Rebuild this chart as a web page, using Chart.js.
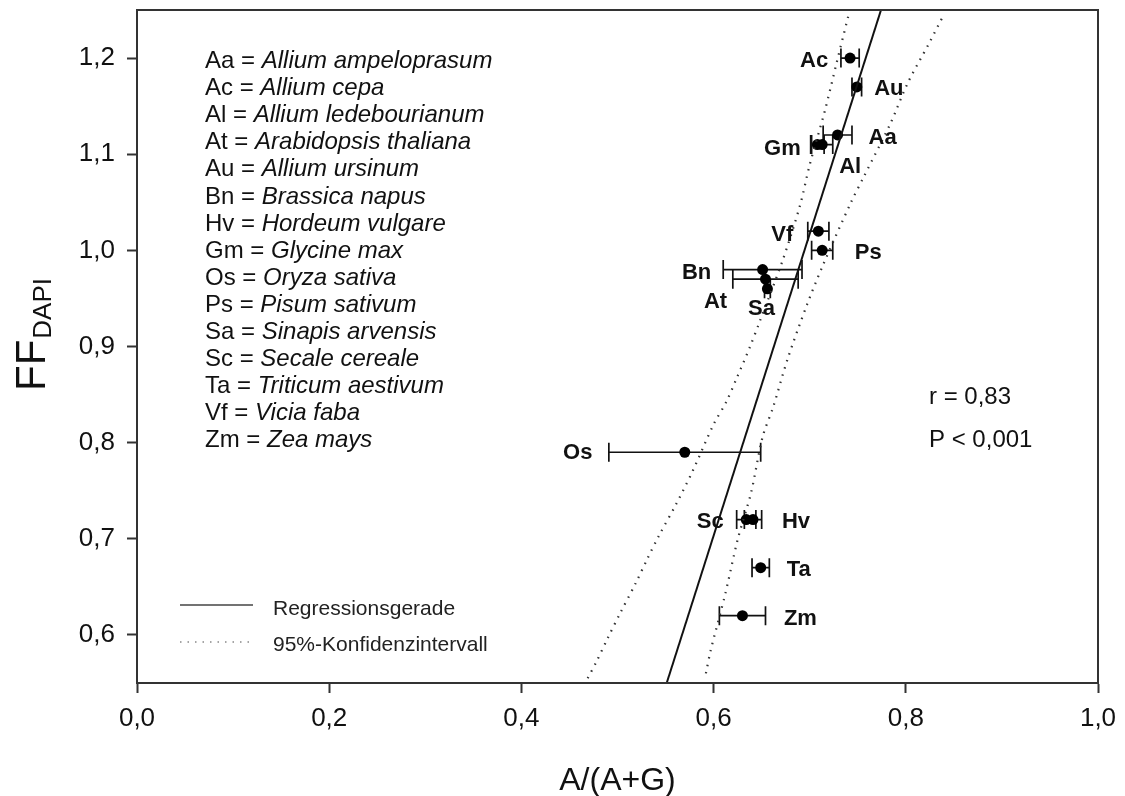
<!DOCTYPE html>
<html>
<head>
<meta charset="utf-8">
<script src="https://cdn.jsdelivr.net/npm/chart.js@4/dist/chart.umd.min.js"></script>
<style>
  html, body { margin: 0; padding: 0; background: #fff; }
  #wrap { width: 1125px; height: 796px; }
</style>
</head>
<body>
<div id="wrap"><canvas id="c" width="1125" height="796"></canvas></div>
<script>
// Species abbreviations and full names
const speciesCodes = ['Aa', 'Ac', 'Al', 'At', 'Au', 'Bn', 'Hv', 'Gm', 'Os', 'Ps', 'Sa', 'Sc', 'Ta', 'Vf', 'Zm'];
const speciesNames = ['Allium ampeloprasum', 'Allium cepa', 'Allium ledebourianum', 'Arabidopsis thaliana',
  'Allium ursinum', 'Brassica napus', 'Hordeum vulgare', 'Glycine max', 'Oryza sativa', 'Pisum sativum',
  'Sinapis arvensis', 'Secale cereale', 'Triticum aestivum', 'Vicia faba', 'Zea mays'];

// A/(A+G) with its error, and FF(DAPI), per species
const aag    = [0.729, 0.742, 0.713, 0.654, 0.749, 0.651, 0.641, 0.708, 0.570, 0.713, 0.656, 0.634, 0.649, 0.709, 0.630];
const aagErr = [0.015, 0.0095, 0.011, 0.034, 0.005, 0.041, 0.009, 0.007, 0.079, 0.011, 0.003, 0.010, 0.009, 0.011, 0.024];
const ffDapi = [1.12, 1.20, 1.11, 0.97, 1.17, 0.98, 0.72, 1.11, 0.79, 1.00, 0.96, 0.72, 0.67, 1.02, 0.62];

// Regression line end points
const regX = [0.5512, 0.7742];
const regY = [0.55, 1.25];

// 95% confidence band, left and right boundaries
const ciLeftX = [0.469, 0.478, 0.490, 0.503, 0.519, 0.531, 0.543, 0.561, 0.578, 0.600, 0.613, 0.624, 0.638, 0.648, 0.672, 0.690, 0.700, 0.716, 0.728, 0.740];
const ciLeftY = [0.555, 0.572, 0.597, 0.623, 0.654, 0.679, 0.703, 0.736, 0.770, 0.819, 0.842, 0.867, 0.900, 0.926, 0.990, 1.047, 1.089, 1.146, 1.195, 1.243];
const ciRightX = [0.592, 0.597, 0.612, 0.625, 0.639, 0.651, 0.662, 0.677, 0.697, 0.714, 0.743, 0.756, 0.784, 0.802, 0.824, 0.840];
const ciRightY = [0.560, 0.584, 0.642, 0.699, 0.748, 0.806, 0.837, 0.887, 0.943, 0.985, 1.050, 1.076, 1.132, 1.174, 1.215, 1.246];

// Axis ticks
const xTicks = [0.0, 0.2, 0.4, 0.6, 0.8, 1.0];
const yTicks = [0.6, 0.7, 0.8, 0.9, 1.0, 1.1, 1.2];

// Statistics text
const statLines = ['r = 0,83', 'P < 0,001'];
const legendLabels = ['Regressionsgerade', '95%-Konfidenzintervall'];

const FONT = '"Liberation Sans", Arial, Helvetica, sans-serif';

// Pixel offsets of the bold species labels from their points
const labelOffsets = {
  Aa: [45, 3], Ac: [-36, 3], Al: [28, 22], At: [-50, 23], Au: [32, 2], Bn: [-66, 3], Hv: [43, 2],
  Gm: [-35, 4], Os: [-107, 1], Ps: [46, 3], Sa: [-6, 20], Sc: [-36, 2], Ta: [38, 2], Vf: [-36, 4], Zm: [58, 3]
};

const zip = (xs, ys) => xs.map((v, i) => ({ x: v, y: ys[i] }));
const fmt = v => v.toFixed(1).replace('.', ',');

const decorations = {
  id: 'decorations',
  beforeDatasetsDraw(chart) {
    const { ctx, scales: { x, y } } = chart;
    ctx.save();
    ctx.strokeStyle = '#111';
    ctx.lineWidth = 1.7;
    speciesCodes.forEach((code, i) => {
      const py = y.getPixelForValue(ffDapi[i]);
      const x0 = x.getPixelForValue(aag[i] - aagErr[i]);
      const x1 = x.getPixelForValue(aag[i] + aagErr[i]);
      ctx.beginPath();
      ctx.moveTo(x0, py); ctx.lineTo(x1, py);
      ctx.moveTo(x0, py - 9.5); ctx.lineTo(x0, py + 9.5);
      ctx.moveTo(x1, py - 9.5); ctx.lineTo(x1, py + 9.5);
      ctx.stroke();
    });
    ctx.restore();
  },
  afterDraw(chart) {
    const { ctx, chartArea: a, scales: { x, y } } = chart;
    ctx.save();
    // frame
    ctx.strokeStyle = '#333';
    ctx.lineWidth = 2;
    ctx.strokeRect(a.left, a.top, a.right - a.left, a.bottom - a.top);

    // species labels
    ctx.fillStyle = '#111';
    ctx.font = 'bold 22px ' + FONT;
    ctx.textAlign = 'center';
    ctx.textBaseline = 'middle';
    speciesCodes.forEach((code, i) => {
      const px = x.getPixelForValue(aag[i]);
      const py = y.getPixelForValue(ffDapi[i]);
      const [dx, dy] = labelOffsets[code];
      ctx.fillText(code, px + dx, py + dy);
    });

    // species key
    ctx.textAlign = 'left';
    ctx.textBaseline = 'alphabetic';
    speciesCodes.forEach((code, i) => {
      const by = 68 + i * 27.1;
      ctx.font = '24px ' + FONT;
      const head = code + ' = ';
      ctx.fillText(head, 205, by);
      const w = ctx.measureText(head).width;
      ctx.font = 'italic 24px ' + FONT;
      ctx.fillText(speciesNames[i], 205 + w, by);
    });

    // statistics
    ctx.font = '24px ' + FONT;
    ctx.fillText(statLines[0], 929, 404);
    ctx.fillText(statLines[1], 929, 447);

    // legend
    ctx.strokeStyle = '#444';
    ctx.lineWidth = 1.5;
    ctx.beginPath(); ctx.moveTo(180, 605); ctx.lineTo(253, 605); ctx.stroke();
    ctx.strokeStyle = '#888';
    ctx.setLineDash([1.5, 6]);
    ctx.beginPath(); ctx.moveTo(180, 642); ctx.lineTo(253, 642); ctx.stroke();
    ctx.setLineDash([]);
    ctx.fillStyle = '#222';
    ctx.font = '21px ' + FONT;
    ctx.fillText(legendLabels[0], 273, 615);
    ctx.fillText(legendLabels[1], 273, 651);

    // axis titles
    ctx.fillStyle = '#111';
    ctx.font = '32px ' + FONT;
    ctx.textAlign = 'center';
    ctx.fillText('A/(A+G)', (a.left + a.right) / 2, 790);

    ctx.save();
    ctx.translate(45, 391);
    ctx.rotate(-Math.PI / 2);
    ctx.textAlign = 'left';
    ctx.font = '42px ' + FONT;
    ctx.fillText('FF', 0, 0);
    const fw = ctx.measureText('FF').width;
    ctx.font = '26px ' + FONT;
    ctx.fillText('DAPI', fw + 1, 6);
    ctx.restore();

    ctx.restore();
  }
};

const axisStyle = {
  grid: { drawOnChartArea: false, drawTicks: true, tickLength: 10, tickWidth: 2, color: '#333' },
  border: { display: true, width: 2, color: '#333' }
};

new Chart(document.getElementById('c'), {
  type: 'scatter',
  data: {
    datasets: [
      { data: zip(regX, regY), showLine: true, borderColor: '#111', borderWidth: 2, pointRadius: 0 },
      { data: zip(ciLeftX, ciLeftY), showLine: true, borderColor: '#333', borderWidth: 2.2,
        borderDash: [1.5, 6], pointRadius: 0, tension: 0.3 },
      { data: zip(ciRightX, ciRightY), showLine: true, borderColor: '#333', borderWidth: 2.2,
        borderDash: [1.5, 6], pointRadius: 0, tension: 0.3 },
      { data: zip(aag, ffDapi), pointRadius: 5.5, pointBackgroundColor: '#000', pointBorderColor: '#000',
        pointBorderWidth: 0, showLine: false }
    ]
  },
  options: {
    responsive: false,
    animation: false,
    events: [],
    layout: { padding: { top: 10, right: 27, left: 0, bottom: 0 } },
    plugins: { legend: { display: false }, tooltip: { enabled: false } },
    scales: {
      x: {
        type: 'linear', min: 0, max: 1,
        afterBuildTicks: s => { s.ticks = xTicks.map(v => ({ value: v })); },
        afterFit: s => { s.height = 113; s.paddingLeft = 0; s.paddingRight = 0; },
        ticks: { callback: v => fmt(v), color: '#111', padding: 10, font: { family: FONT, size: 26 }, maxRotation: 0 },
        ...axisStyle
      },
      y: {
        type: 'linear', min: 0.55, max: 1.25,
        afterBuildTicks: s => { s.ticks = yTicks.map(v => ({ value: v })); },
        afterFit: s => { s.width = 137; s.paddingTop = 0; s.paddingBottom = 0; },
        ticks: { callback: v => fmt(v), color: '#111', padding: 12, font: { family: FONT, size: 26 } },
        ...axisStyle
      }
    }
  },
  plugins: [decorations]
});
</script>
</body>
</html>
